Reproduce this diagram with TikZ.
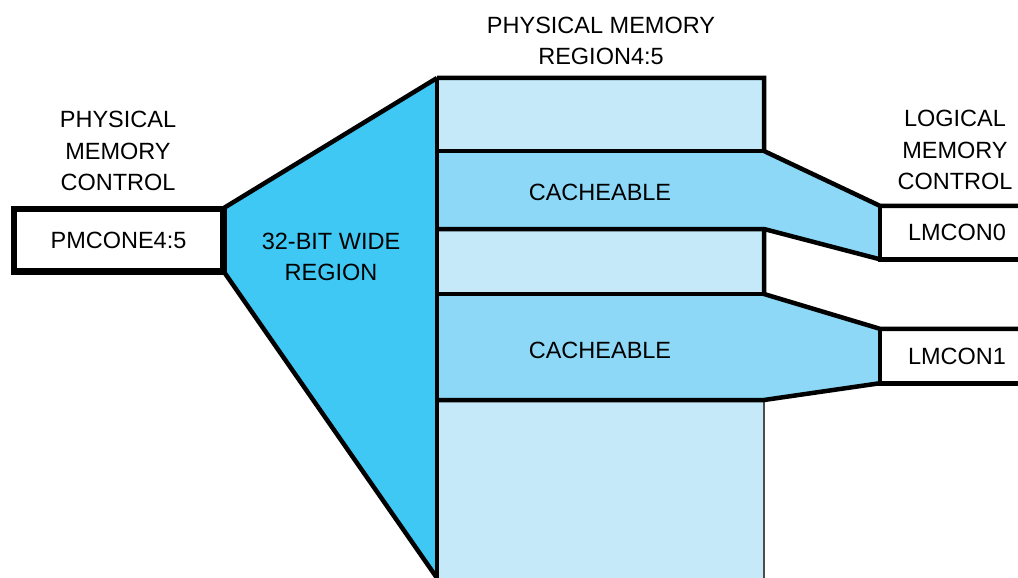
\documentclass[tikz,border=0pt]{standalone}
\usepackage{fontspec}
\setmainfont{Liberation Sans}
\definecolor{wide}{HTML}{40C8F4}
\definecolor{light}{HTML}{C5E9F9}
\definecolor{cache}{HTML}{8CD8F6}
\begin{document}
\begin{tikzpicture}[x=1pt,y=-1pt,
  thick line/.style={line width=4.5pt, line join=miter},
  lbl/.style={font=\fontsize{23.5}{31.5}\selectfont, align=center, text=black, inner sep=0pt},
  regbox/.style={draw, thick line, fill=white, inner sep=0pt, font=\fontsize{23.5}{31.5}\selectfont}]
\useasboundingbox (0,0) rectangle (1018,578);
% coordinates
\coordinate (ct) at (437,78);
\coordinate (cr) at (764,78);
\coordinate (a1) at (437,151); \coordinate (b1) at (764,151);
\coordinate (a2) at (437,229); \coordinate (b2) at (764,229);
\coordinate (a3) at (437,294); \coordinate (b3) at (764,294);
\coordinate (a4) at (437,400); \coordinate (b4) at (764,400);
\coordinate (cb) at (437,600); \coordinate (db) at (764,600);
% boxes
\node[regbox, minimum width=207pt, minimum height=60pt] (pm) at (118.5,240) {PMCONE4:5};
\node[regbox, minimum width=150pt, minimum height=49pt, draw=none] (l0) at (957,232.5) {LMCON0};
\node[regbox, minimum width=150pt, minimum height=50pt, draw=none] (l1) at (957,356) {LMCON1};
% fills
\fill[light] (ct) -- (cr) -- (db) -- (cb) -- cycle;
\fill[cache] (a1) -- (b1) -- (l0.north west) -- (l0.south west) -- (b2) -- (a2) -- cycle;
\fill[cache] (a3) -- (b3) -- (l1.north west) -- (l1.south west) -- (b4) -- (a4) -- cycle;
\fill[wide] (pm.north east) -- (ct) -- (437,578) -- (pm.south east) -- cycle;
% thin right edge at bottom
\draw[line width=1.5pt, black!70] (b4) -- (db);
% thick lines
\draw[thick line] (ct) -- (cr) -- (b1) -- (l0.north west) -- ([xshift=20pt]l0.north east);
\draw[thick line] (a1) -- (b1);
\draw[thick line] (a2) -- (b2) -- (l0.south west);
\draw[thick line] (l0.north west) -- (l0.south west) -- ([xshift=20pt]l0.south east);
\draw[thick line] (b2) -- (b3) -- (l1.north west) -- ([xshift=20pt]l1.north east);
\draw[thick line] (a3) -- (b3);
\draw[thick line] (a4) -- (b4) -- (l1.south west);
\draw[thick line] (l1.north west) -- (l1.south west) -- ([xshift=20pt]l1.south east);
\draw[thick line] (ct) -- (cb);
\draw[thick line] (pm.north east) -- (ct);
\draw[thick line] (pm.south east) -- (437,578);
\draw[thick line] (pm.south west) rectangle (pm.north east);
% labels
\node[lbl] (t1) at (601,41) {PHYSICAL MEMORY\\REGION4:5};
\node[lbl] (t2) at (118,151) {PHYSICAL\\MEMORY\\CONTROL};
\node[lbl] (t3) at (955,150) {LOGICAL\\MEMORY\\CONTROL};
\node[lbl] (c1) at (600,192) {CACHEABLE};
\node[lbl] (c2) at (600,350) {CACHEABLE};
\node[lbl] (w) at (331,257) {32-BIT WIDE\\REGION};
\end{tikzpicture}
\end{document}
